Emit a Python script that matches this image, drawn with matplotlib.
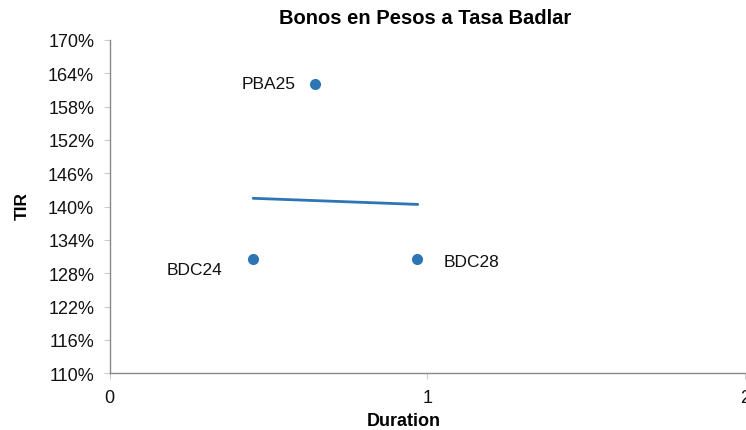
import matplotlib
matplotlib.use("Agg")
import matplotlib.pyplot as plt
from matplotlib.ticker import FuncFormatter, FixedLocator

plt.rcParams['font.family'] = ['Liberation Sans', 'DejaVu Sans']

# Data
bonds = ["BDC24", "PBA25", "BDC28"]
duration = [0.452, 0.647, 0.968]
tir = [130.5, 162.1, 130.5]
trend_x = [0.452, 0.970]
trend_y = [141.5, 140.4]
y_ticks = [110, 116, 122, 128, 134, 140, 146, 152, 158, 164, 170]
x_ticks = [0, 1, 2]

label_offsets = {"BDC24": (-62, -7.5), "PBA25": (-14, 0), "BDC28": (19, -1.5)}
label_align = {"BDC24": "left", "PBA25": "right", "BDC28": "left"}

color = "#2E75B6"

fig = plt.figure(figsize=(7.46, 4.31), dpi=100)
ax = fig.add_axes([0.1468, 0.1316, 0.852, 0.7733])

ax.plot(trend_x, trend_y, color=color, lw=2.0, solid_capstyle='round', zorder=2)
ax.scatter(duration, tir, s=64, color=color, zorder=3, linewidths=0)

for name, x, y in zip(bonds, duration, tir):
    dx, dy = label_offsets[name]
    ax.annotate(name, (x, y), xytext=(dx, dy), textcoords="offset points",
                ha=label_align[name], va="center", fontsize=12.5, color="#111111")

ax.set_xlim(0, 2)
ax.set_ylim(110, 170)
ax.yaxis.set_major_locator(FixedLocator(y_ticks))
ax.xaxis.set_major_locator(FixedLocator(x_ticks))
ax.yaxis.set_major_formatter(FuncFormatter(lambda v, p: f"{v:.0f}%"))
ax.xaxis.set_major_formatter(FuncFormatter(lambda v, p: f"{v:.0f}"))

for s in ["top", "right"]:
    ax.spines[s].set_visible(False)
for s in ["left", "bottom"]:
    ax.spines[s].set_color("#888888")
    ax.spines[s].set_linewidth(1.0)

ax.tick_params(axis="y", direction="out", length=4, color="#CCCCCC", labelsize=13, pad=7, labelcolor="#111111")
ax.tick_params(axis="x", direction="out", length=4, color="#CCCCCC", labelsize=13, pad=7, labelcolor="#111111")

ax.set_title("Bonos en Pesos a Tasa Badlar", fontsize=14.5, fontweight="bold", pad=12, x=0.496)
ax.set_xlabel("Duration", fontsize=13, fontweight="bold")
ax.set_ylabel("TIR", fontsize=12.5, fontweight="bold")
ax.xaxis.set_label_coords(0.463, -0.115)
ax.yaxis.set_label_coords(-0.125, 0.505)

fig.savefig("out.png", dpi=100)
